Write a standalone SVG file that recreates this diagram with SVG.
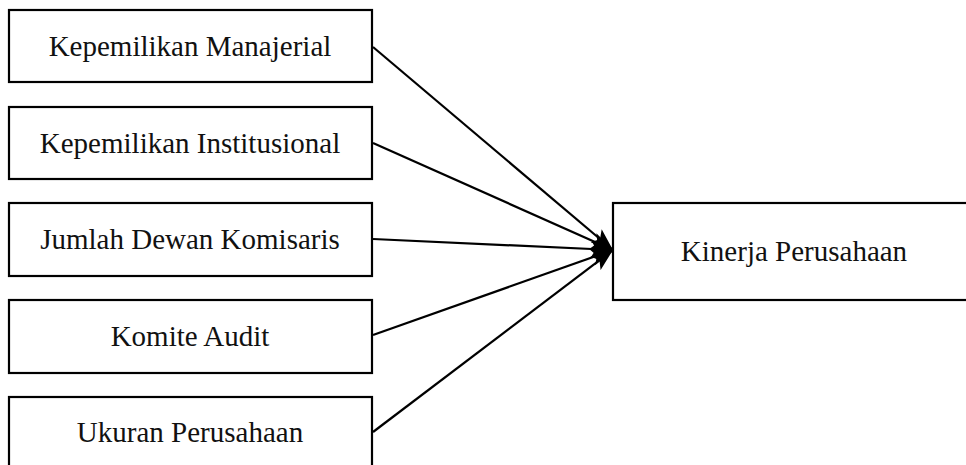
<svg xmlns="http://www.w3.org/2000/svg" width="966" height="465" viewBox="0 0 966 465">
<style>
.box{fill:#fff;stroke:#000;stroke-width:2.2}
.lbl{font-family:"Liberation Serif","Times New Roman",serif;font-size:29px;fill:#111;text-anchor:middle}
.edge{stroke:#000;stroke-width:2.2;fill:none;marker-end:url(#ah)}
</style>
<defs>
<marker id="ah" markerUnits="userSpaceOnUse" markerWidth="24" markerHeight="18" refX="22" refY="9" orient="auto" viewBox="0 0 24 18">
<path d="M0,0.5 L22,9 L0,17.5 L5,9 Z" fill="#000"/>
</marker>
</defs>
<rect width="966" height="465" fill="#fff"/>
<g id="n1"><rect class="box" x="9" y="10" width="363" height="72"/><text class="lbl" x="190" y="56">Kepemilikan Manajerial</text></g>
<g id="n2"><rect class="box" x="9" y="107" width="363" height="72"/><text class="lbl" x="190" y="152.5">Kepemilikan Institusional</text></g>
<g id="n3"><rect class="box" x="9" y="203" width="363" height="73"/><text class="lbl" x="190" y="248.5">Jumlah Dewan Komisaris</text></g>
<g id="n4"><rect class="box" x="9" y="300" width="363" height="73"/><text class="lbl" x="190" y="345.5">Komite Audit</text></g>
<g id="n5"><rect class="box" x="9" y="397" width="363" height="72"/><text class="lbl" x="190" y="442">Ukuran Perusahaan</text></g>
<g id="n6"><rect class="box" x="613" y="203" width="356" height="97"/><text class="lbl" x="794" y="260.5">Kinerja Perusahaan</text></g>
<g id="edges">
<line class="edge" x1="373" y1="47" x2="613" y2="250"/>
<line class="edge" x1="373" y1="143" x2="613" y2="250"/>
<line class="edge" x1="373" y1="239" x2="613" y2="250"/>
<line class="edge" x1="373" y1="335" x2="613" y2="250"/>
<line class="edge" x1="373" y1="432" x2="613" y2="250"/>
</g>
</svg>
